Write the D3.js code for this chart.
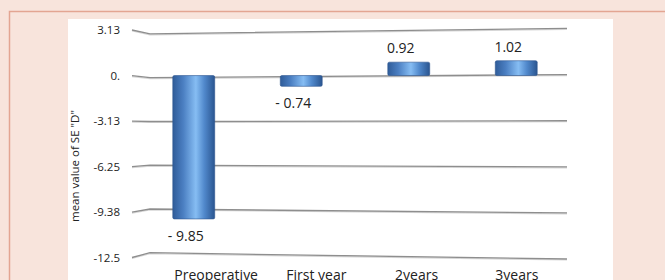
<!DOCTYPE html>
<html>
<head>
<meta charset="utf-8">
<script src="https://cdn.jsdelivr.net/npm/d3@7"></script>
<style>
  body { margin: 0; background: #f8e4dc; }
  svg { display: block; }
  text { font-family: "Open Sans", "Noto Sans", sans-serif; fill: #222; }
</style>
</head>
<body>
<svg id="chart"></svg>
<script>
const categories = ['Preoperative', 'First year', '2years', '3years'];
const values = [-9.85, -0.74, 0.92, 1.02];
const valueLabels = ['- 9.85', '- 0.74', '0.92', '1.02'];
const tickValues = [3.13, 0, -3.13, -6.25, -9.38, -12.5];
const tickLabels = ['3.13', '0.', '-3.13', '-6.25', '-9.38', '-12.5'];

const width = 665;
const height = 280;

const svg = d3.select('#chart')
  .attr('width', width)
  .attr('height', height);

// page frame
svg.append('rect')
  .attr('x', 9.5).attr('y', 11.5)
  .attr('width', width).attr('height', height)
  .attr('fill', '#f8e4dc')
  .attr('stroke', '#e3a592')
  .attr('stroke-width', 1.5);

svg.append('rect')
  .attr('x', 68).attr('y', 19)
  .attr('width', 545).attr('height', height)
  .attr('fill', '#fff');

const defs = svg.append('defs');
const grad = defs.append('linearGradient')
  .attr('id', 'barGrad')
  .attr('x1', '0%').attr('x2', '100%')
  .attr('y1', '0%').attr('y2', '0%');
[['0%', '#2f5c99'], ['25%', '#4b7fc2'], ['55%', '#86bdf3'], ['75%', '#5189cc'], ['100%', '#2a5590']]
  .forEach(([o, c]) => grad.append('stop').attr('offset', o).attr('stop-color', c));

const y = d3.scaleLinear()
  .domain([-12.5, 3.13])
  .range([257.5, 30]);

const x = d3.scaleBand()
  .domain(categories)
  .range([140, 570])
  .paddingInner(0.61)
  .paddingOuter(0.305);

const xLabel = d3.scaleBand()
  .domain(categories)
  .range([166, 567]);

const gridLeft = 150;
const gridRight = 567;
const tiltLeft = v => 0.55 * (v + 3.8);
const tiltRight = v => -0.2 * (v + 5);

// gridlines with perspective tilt
const grid = svg.append('g');
tickValues.forEach((v) => {
  const path = d3.line()([
    [132, y(v)],
    [gridLeft, y(v) + tiltLeft(v)],
    [gridRight, y(v) + tiltRight(v)],
  ]);
  grid.append('path')
    .attr('d', path)
    .attr('transform', 'translate(0,1)')
    .attr('fill', 'none')
    .attr('stroke', '#d6d6d6')
    .attr('stroke-width', 1.2);
  grid.append('path')
    .attr('d', path)
    .attr('fill', 'none')
    .attr('stroke', '#8e8e8e')
    .attr('stroke-width', 1.3);
});

svg.append('g')
  .selectAll('text')
  .data(tickValues)
  .enter().append('text')
  .attr('x', 120)
  .attr('y', d => y(d))
  .attr('dy', '0.35em')
  .attr('text-anchor', 'end')
  .style('font-size', '11.5px')
  .text((d, i) => tickLabels[i]);

// bars
const bars = svg.append('g')
  .selectAll('g')
  .data(values)
  .enter().append('g');

bars.append('rect')
  .attr('x', (d, i) => x(categories[i]))
  .attr('y', d => y(Math.max(0, d)))
  .attr('width', x.bandwidth())
  .attr('height', d => Math.abs(y(d) - y(0)))
  .attr('rx', 1.5)
  .attr('fill', 'url(#barGrad)')
  .attr('stroke', '#2d5590')
  .attr('stroke-width', 0.6);

bars.append('text')
  .attr('x', (d, i) => x(categories[i]) + x.bandwidth() / 2 - 8)
  .attr('y', d => d >= 0 ? y(d) - 14 : y(d) + 17)
  .attr('dy', '0.35em')
  .attr('text-anchor', 'middle')
  .style('font-size', '14px')
  .text((d, i) => valueLabels[i]);

// category labels
svg.append('g')
  .selectAll('text')
  .data(categories)
  .enter().append('text')
  .attr('x', d => xLabel(d) + xLabel.bandwidth() / 2)
  .attr('y', 280)
  .attr('text-anchor', 'middle')
  .style('font-size', '14px')
  .text(d => d);

svg.append('text')
  .attr('transform', 'translate(79,166) rotate(-90)')
  .attr('text-anchor', 'middle')
  .style('font-size', '11.5px')
  .text('mean value of SE "D"');
</script>
</body>
</html>
